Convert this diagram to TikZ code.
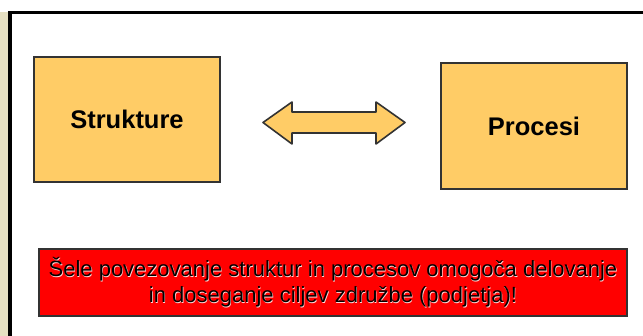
\documentclass[tikz,border=0pt]{standalone}
\usepackage{fontspec}
\setmainfont{Liberation Sans}
\definecolor{boxorange}{HTML}{FFCC66}
\definecolor{paper}{HTML}{E6E0C2}
\definecolor{boxline}{HTML}{333333}
\tikzset{
    pbox/.style={draw=boxline,line width=1.6pt,fill=boxorange,inner sep=0pt,
        font=\fontsize{25.5}{30}\selectfont\bfseries},
    notebox/.style={draw=boxline,line width=1.2pt,fill=red,inner sep=0pt},
    notetxt/.style={align=center,font=\fontsize{22}{26}\selectfont}
}
\begin{document}
\begin{tikzpicture}[x=1pt,y=-1pt]
        % draw the background
        \useasboundingbox (0,0) rectangle (643,336);
        \fill[white] (0,0) rectangle (643,336);
        \fill[paper] (0,12) rectangle (8,336);
        \draw[line width=3.5pt] (10,340) -- (10,12.5) -- (650,12.5);
        % draw the boxes
        \node[pbox,minimum width=186pt,minimum height=125pt] (strukture) at (127,119.5) {Strukture};
        \node[pbox,minimum width=186pt,minimum height=126pt] (procesi) at (534,126) {Procesi};
        % draw the arrow
        \draw[boxline,line width=1.6pt,fill=boxorange,line join=round]
            (263,122.5) -- (292,102) -- (292,112) -- (376,112) -- (376,102) -- (405,122.5)
            -- (376,144) -- (376,133) -- (292,133) -- (292,144) -- cycle;
        % draw the note
        \node[notebox,minimum width=588pt,minimum height=67pt] (note) at (333,282.5) {};
        \node[notetxt,white!85!red] at ([shift={(0.6,0.6)}]note.center)
            {Šele povezovanje struktur in procesov omogoča delovanje\\in doseganje ciljev združbe (podjetja)!};
        \node[notetxt,black] (notetext) at (note.center)
            {Šele povezovanje struktur in procesov omogoča delovanje\\in doseganje ciljev združbe (podjetja)!};
    \end{tikzpicture}
\end{document}
